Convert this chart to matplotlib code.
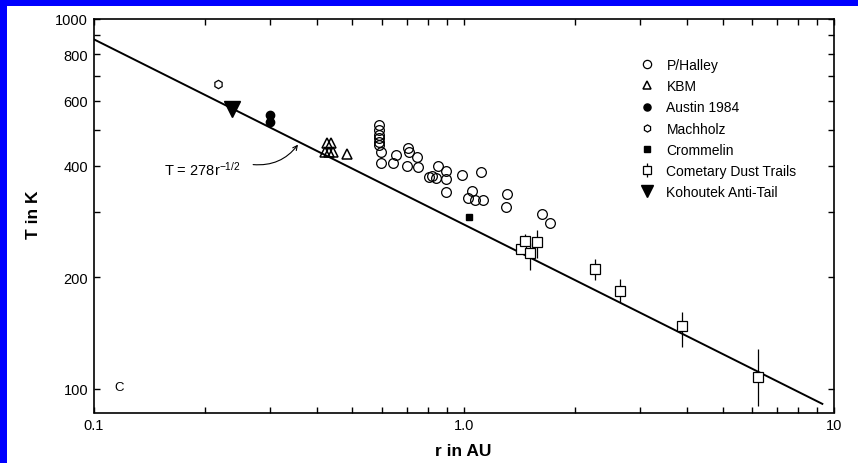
import numpy as np
import matplotlib
matplotlib.use("Agg")
import matplotlib.pyplot as plt
from matplotlib.patches import Rectangle
from matplotlib.ticker import FixedLocator, FixedFormatter, NullFormatter

plt.rcParams.update({
    "font.family": ["Liberation Sans", "DejaVu Sans"],
    "mathtext.default": "regular",
    "font.size": 10,
})

# --- data (r in AU, T in K) ---
halley_r = [0.589, 0.589, 0.589, 0.589, 0.589, 0.589, 0.597, 0.597, 0.643, 0.655,
            0.705, 0.710, 0.746, 0.700, 0.750, 0.805, 0.820, 0.840, 0.850, 0.895,
            0.895, 0.895, 0.988, 1.11, 1.053, 1.023, 1.074, 1.13, 1.31, 1.30,
            1.63, 1.71]
halley_T = [516, 501, 486, 476, 465, 455, 437, 408, 408, 429,
            448, 435, 424, 399, 397, 373, 375, 371, 400, 388,
            369, 340, 379, 386, 343, 328, 324, 324, 335, 309,
            296, 281]

kbm_r = [0.427, 0.437, 0.422, 0.432, 0.443, 0.483]
kbm_T = [460, 460, 435, 435, 435, 430]

austin_r = [0.300, 0.300]
austin_T = [550, 525]

machholz_r = [0.217]
machholz_T = [666]

crommelin_r = [1.034]
crommelin_T = [292]

dust_r = [1.43, 1.462, 1.505, 1.573, 2.26, 2.64, 3.89, 6.22]
dust_T = [239, 251, 233, 250, 211, 184, 148, 108]
dust_lo = [232, 240, 210, 226, 197, 172, 130, 90]
dust_hi = [246, 262, 248, 269, 224, 198, 161, 128]

kohoutek_r = [0.236]
kohoutek_T = [571]

# fit T = 278 r^-1/2
fit_coef = 278
fit_r = [0.1, 9.3]

y_ticks = [100, 200, 300, 400, 500, 600, 700, 800, 900, 1000]
y_labels = ["100", "200", "", "400", "", "600", "", "800", "", "1000"]
x_ticks = [0.1, 1.0, 10]
x_labels = ["0.1", "1.0", "10"]

W, H = 858, 464
fig = plt.figure(figsize=(W / 100, H / 100), dpi=100)
fig.patch.set_facecolor("#0000ff")

# white page inside the blue border (scan background)
fig.patches.append(Rectangle((7 / W, 0), 1, 1 - 7 / H, transform=fig.transFigure,
                             facecolor="white", edgecolor="none", zorder=-10))

ax = fig.add_axes([93.7 / W, 1 - 413.5 / H, 740.3 / W, 394 / H])
ax.set_facecolor("white")
ax.set_xscale("log")
ax.set_yscale("log")
ax.set_xlim(0.1, 10)
ax.set_ylim(86.4, 1000)

# fit line
fr = np.array(fit_r)
ax.plot(fr, fit_coef * fr ** -0.5, color="black", lw=1.4, zorder=2)

h_halley, = ax.plot(halley_r, halley_T, "o", ms=7, mfc="none", mec="black", mew=0.9,
                    ls="none", label="P/Halley", zorder=3)
h_kbm, = ax.plot(kbm_r, kbm_T, "^", ms=7, mfc="none", mec="black", mew=1.1,
                 ls="none", label="KBM", zorder=3)
h_austin, = ax.plot(austin_r, austin_T, "o", ms=6, color="black", ls="none",
                    label="Austin 1984", zorder=3)
h_mach, = ax.plot(machholz_r, machholz_T, "h", ms=6, mfc="none", mec="black", mew=0.9,
                  ls="none", label="Machholz", zorder=3)
h_crom, = ax.plot(crommelin_r, crommelin_T, "s", ms=5, color="black", ls="none",
                  label="Crommelin", zorder=3)

dT = np.array(dust_T)
yerr = [dT - np.array(dust_lo), np.array(dust_hi) - dT]
h_dust = ax.errorbar(dust_r, dust_T, yerr=yerr, fmt="s", ms=6.5, mfc="white", mec="black",
                     mew=0.9, ecolor="black", elinewidth=0.9, capsize=0,
                     label="Cometary Dust Trails", zorder=3)
h_koh, = ax.plot(kohoutek_r, kohoutek_T, "v", ms=11, color="black", ls="none",
                 label="Kohoutek Anti-Tail", zorder=4)

# formula annotation with curved arrow
ax.text(0.155, 393, "T = 278r$^{-1/2}$", ha="left", va="center", fontsize=10.5)
ax.annotate("", xy=(0.36, 463), xytext=(0.265, 404),
            arrowprops=dict(arrowstyle="->", lw=0.8, color="black", mutation_scale=8,
                            connectionstyle="arc3,rad=0.3"))
ax.text(0.117, 101, "C", ha="center", va="center", fontsize=9.5)

# ticks: all inside, on every side
ax.yaxis.set_major_locator(FixedLocator(y_ticks))
ax.yaxis.set_major_formatter(FixedFormatter(y_labels))
ax.yaxis.set_minor_locator(FixedLocator([]))
ax.yaxis.set_minor_formatter(NullFormatter())
ax.xaxis.set_major_locator(FixedLocator(x_ticks))
ax.xaxis.set_major_formatter(FixedFormatter(x_labels))
ax.xaxis.set_minor_formatter(NullFormatter())
ax.tick_params(which="both", direction="in", top=True, right=True,
               length=4.5, width=1.0, labelsize=10.5, pad=4)

for sp in ax.spines.values():
    sp.set_linewidth(1.2)

fig.text(33 / W, 1 - 215 / H, "T in K", rotation=90, ha="center", va="center",
         fontsize=12.5, fontweight="bold")
fig.text(463 / W, 1 - 452 / H, "r in AU", ha="center", va="center",
         fontsize=12.5, fontweight="bold")

ax.legend(handles=[h_halley, h_kbm, h_austin, h_mach, h_crom, h_dust, h_koh],
          loc="upper left", bbox_to_anchor=(640 / W, 1 - 59 / H),
          bbox_transform=fig.transFigure, frameon=False, fontsize=10,
          handlelength=1.0, handletextpad=0.9, labelspacing=0.52,
          borderpad=0, borderaxespad=0, markerscale=0.85)

fig.savefig("out.png", dpi=100, facecolor=fig.get_facecolor())
